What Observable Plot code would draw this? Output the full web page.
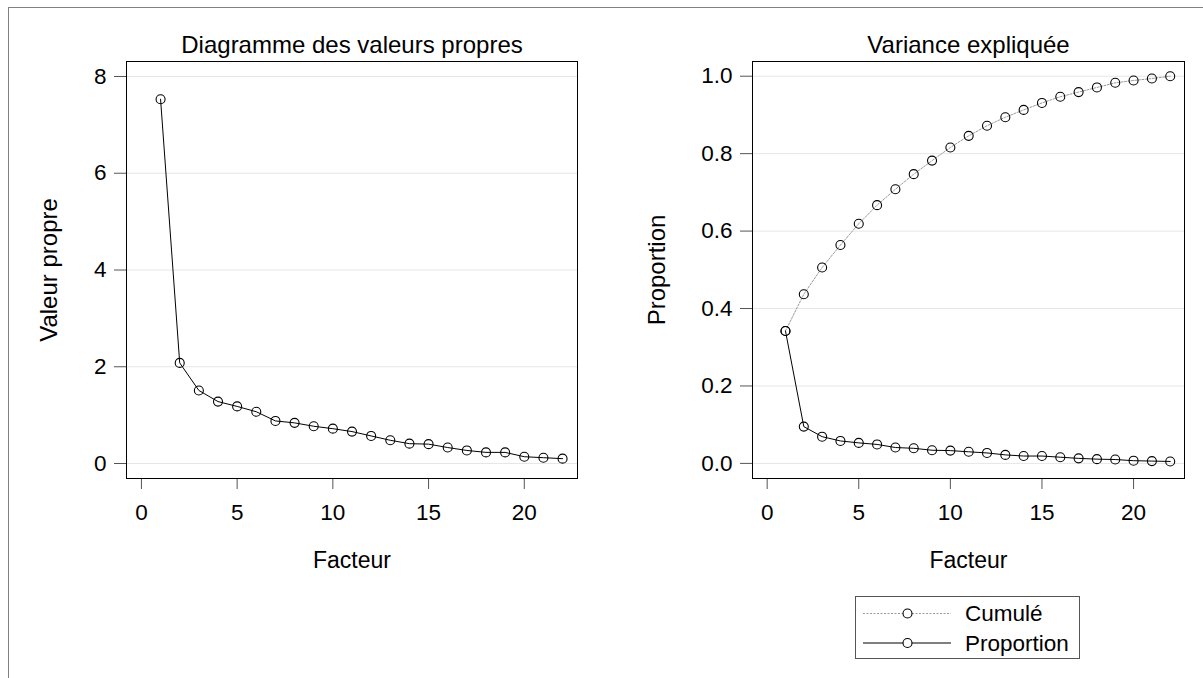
<!DOCTYPE html>
<html>
<head>
<meta charset="utf-8">
<script src="https://cdn.jsdelivr.net/npm/d3@7"></script>
<script src="https://cdn.jsdelivr.net/npm/@observablehq/plot@0.6"></script>
<style>
  html, body { margin: 0; padding: 0; background: #fff; overflow: hidden; }
  #page { position: relative; width: 1203px; height: 678px; overflow: hidden; font-family: "Liberation Sans", Arial, sans-serif; }
  #border { position: absolute; left: 8px; top: 7px; width: 1400px; height: 900px; border-left: 1px solid #808080; border-top: 1px solid #808080; }
  .panel { position: absolute; top: 0; }
  #legend { position: absolute; left: 855px; top: 596px; }
  .panel svg [aria-label="x-axis tick"], .panel svg [aria-label="y-axis tick"] { stroke: #555; }
</style>
</head>
<body>
<div id="page">
  <div id="border"></div>
  <div id="left" class="panel" style="left:0px"></div>
  <div id="right" class="panel" style="left:600px"></div>
  <div id="legend"></div>
</div>
<script>
// Factor numbers (1..22)
const facteurs = [1, 2, 3, 4, 5, 6, 7, 8, 9, 10, 11, 12, 13, 14, 15, 16, 17, 18, 19, 20, 21, 22];

// Eigenvalues (scree plot)
const valeursPropres = [7.53, 2.08, 1.51, 1.28, 1.18, 1.07, 0.88, 0.84, 0.77, 0.72, 0.66,
                        0.57, 0.48, 0.41, 0.40, 0.33, 0.27, 0.23, 0.23, 0.14, 0.12, 0.10];

// Proportion of variance explained by each factor
const proportion = [0.342, 0.095, 0.069, 0.058, 0.053, 0.049, 0.041, 0.039, 0.034, 0.033, 0.030,
                    0.027, 0.022, 0.019, 0.019, 0.016, 0.013, 0.011, 0.010, 0.007, 0.006, 0.005];

// Cumulative proportion of variance
const cumule = [0.342, 0.437, 0.506, 0.564, 0.619, 0.667, 0.708, 0.747, 0.782, 0.816, 0.846,
                0.872, 0.894, 0.913, 0.931, 0.947, 0.959, 0.971, 0.983, 0.989, 0.994, 1.000];

// Axis ticks
const xTicks = [0, 5, 10, 15, 20];
const valeurTicks = [0, 2, 4, 6, 8];
const proportionTicks = [0, 0.2, 0.4, 0.6, 0.8, 1.0];

// Series names for the legend
const seriesNames = ["Cumulé", "Proportion"];

const FONT = '"Liberation Sans", Arial, sans-serif';

const scree = facteurs.map((f, i) => ({facteur: f, valeur: valeursPropres[i]}));
const variance = facteurs.map((f, i) => ({facteur: f, proportion: proportion[i], cumule: cumule[i]}));

const circle = {r: 4.5, stroke: "black", fill: "none", strokeWidth: 1.1};
const cumStyle = {stroke: "#9a9a9a", strokeWidth: 1, strokeDasharray: "2,1.5"};

// Panel title, x label and rotated y label, placed relative to the frame
function labels(title, ylabel, ylabelDx) {
  return [
    Plot.text([title], {text: d => d, frameAnchor: "top", lineAnchor: "middle", textAnchor: "middle",
                        dy: -16, fontSize: 24, fill: "black"}),
    Plot.text(["Facteur"], {text: d => d, frameAnchor: "bottom", lineAnchor: "middle", textAnchor: "middle",
                            dy: 82, fontSize: 23, fill: "black"}),
    Plot.text([ylabel], {text: d => d, frameAnchor: "left", lineAnchor: "middle", textAnchor: "middle",
                         dx: ylabelDx, rotate: -90, fontSize: 24, fill: "black"})
  ];
}

const common = {
  height: 600,
  marginTop: 61,
  marginBottom: 122,
  style: {fontFamily: FONT, fontSize: "22.5px", color: "black", background: "transparent", overflow: "visible"}
};

const left = Plot.plot({
  ...common,
  width: 600,
  marginLeft: 126,
  marginRight: 23,
  x: {domain: [-0.78, 22.78], ticks: xTicks, tickSize: 11, tickPadding: 15, label: null},
  y: {domain: [-0.31, 8.31], ticks: valeurTicks, tickSize: 12, tickPadding: 8, label: null},
  marks: [
    Plot.ruleY(valeurTicks, {stroke: "#e6e6e6"}),
    Plot.frame({stroke: "black"}),
    Plot.line(scree, {x: "facteur", y: "valeur", stroke: "black", strokeWidth: 1}),
    Plot.dot(scree, {x: "facteur", y: "valeur", ...circle}),
    ...labels("Diagramme des valeurs propres", "Valeur propre", -77)
  ]
});
document.getElementById("left").appendChild(left);

const right = Plot.plot({
  ...common,
  width: 603,
  marginLeft: 152,
  marginRight: 19,
  x: {domain: [-0.8, 22.78], ticks: xTicks, tickSize: 11, tickPadding: 15, label: null},
  y: {domain: [-0.039, 1.038], ticks: proportionTicks, tickFormat: d3.format(".1f"), tickSize: 12, tickPadding: 8, label: null},
  marks: [
    Plot.ruleY(proportionTicks, {stroke: "#e6e6e6"}),
    Plot.frame({stroke: "black"}),
    Plot.line(variance, {x: "facteur", y: "cumule", ...cumStyle}),
    Plot.dot(variance, {x: "facteur", y: "cumule", ...circle}),
    Plot.line(variance, {x: "facteur", y: "proportion", stroke: "black", strokeWidth: 1}),
    Plot.dot(variance, {x: "facteur", y: "proportion", ...circle}),
    ...labels("Variance expliquée", "Proportion", -95)
  ]
});
document.getElementById("right").appendChild(right);

// Legend box: one row per series, line sample with a circle marker
const lg = d3.select("#legend").append("svg")
  .attr("width", 225).attr("height", 63)
  .style("font-family", FONT).style("display", "block");
lg.append("rect").attr("x", 0.5).attr("y", 0.5).attr("width", 224).attr("height", 62)
  .attr("fill", "white").attr("stroke", "#555");
seriesNames.forEach((name, i) => {
  const y = 17.5 + i * 29.5;
  const line = lg.append("line").attr("x1", 8).attr("x2", 96).attr("y1", y).attr("y2", y)
    .attr("stroke-width", 1);
  if (i === 0) line.attr("stroke", cumStyle.stroke).attr("stroke-dasharray", cumStyle.strokeDasharray);
  else line.attr("stroke", "black");
  lg.append("circle").attr("cx", 52.5).attr("cy", y).attr("r", circle.r)
    .attr("fill", "white").attr("stroke", "black").attr("stroke-width", circle.strokeWidth);
  lg.append("text").attr("x", 110).attr("y", y).attr("dy", "0.35em")
    .attr("font-size", 22.5).attr("fill", "black").text(name);
});
</script>
</body>
</html>
